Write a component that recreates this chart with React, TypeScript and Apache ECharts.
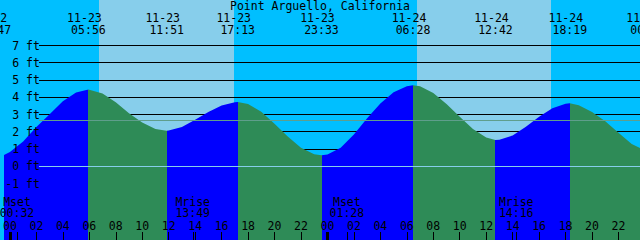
import React, { useEffect, useRef } from 'react';
import * as echarts from 'echarts';

// ---- data (hour 0 = 11-23 00:00) ----
const axisMinHour = -0.375;
const axisMaxHour = 47.625;
const yMinFeet = -4.256;
const yMaxFeet = 9.641;

const tideDates = ['11-22', '11-23', '11-23', '11-23', '11-23', '11-24', '11-24', '11-24', '11-25'];
const tideTimes = ['22:47', '05:56', '11:51', '17:13', '23:33', '06:28', '12:42', '18:19', '00:12'];
const tideHeights = [0.35, 4.46, 2.07, 3.73, 0.65, 4.7, 1.53, 3.66, 0.85];

const sunriseTimes = ['11-23 06:45', '11-24 06:45'];
const sunsetTimes = ['11-23 16:57', '11-24 16:52'];

const moonEvents = ['Mset', 'Mrise', 'Mset', 'Mrise'];
const moonDates = ['11-23', '11-23', '11-24', '11-24'];
const moonTimes = ['00:32', '13:49', '01:28', '14:16'];

const readingHours = Array.from({ length: 48 }, (_, i) => i);
const readingFeet = [
  0.84, 1.45, 2.28, 3.02, 3.78, 4.28,
  4.45, 4.22, 3.72, 3.08, 2.55, 2.17,
  2.08, 2.28, 2.7, 3.15, 3.53, 3.72,
  3.62, 3.17, 2.48, 1.73, 1.08, 0.71,
  0.69, 1.09, 1.85, 2.8, 3.65, 4.3,
  4.65, 4.64, 4.25, 3.62, 2.88, 2.17,
  1.68, 1.55, 1.8, 2.3, 2.88, 3.38,
  3.64, 3.55, 3.15, 2.62, 1.95, 1.3,
];

const footLevels = [7, 6, 5, 4, 3, 2, 1, 0, -1];
const hourTickValues = [0, 2, 4, 6, 8, 10, 12, 14, 16, 18, 20, 22, 24, 26, 28, 30, 32, 34, 36, 38, 40, 42, 44, 46];
const dayStartHours = [0, 24];
const datumLevels = [0, 2.66];

const title = 'Point Arguello, California';

// ---- styles ----
const FONT = '"DejaVu Sans Mono", monospace';
const FS = 11.5;
const NIGHT = '#00BFFF';
const DAY = '#87CEEB';
const RISE = '#0000FF';
const FALL = '#2E8B57';
const datumColors = ['#87CEEB', '#5F9E8C'];
const LINE_START_X = 39;

function toHours(date: string, time: string) {
  const day = parseInt(date.split('-')[1], 10);
  const [hh, mm] = time.split(':').map(Number);
  return (day - 23) * 24 + hh + mm / 60;
}
function split(dt: string): [string, string] {
  const p = dt.split(' ');
  return [p[0], p[1]];
}

const tideHours = tideDates.map((d, i) => toHours(d, tideTimes[i]));
const curve = readingHours
  .map((h, i) => [h, readingFeet[i]])
  .concat(tideHours.map((h, i) => [h, tideHeights[i]]))
  .sort((a, b) => a[0] - b[0]);

const dayBands = sunriseTimes.map((s, i) => [toHours(...split(s)), toHours(...split(sunsetTimes[i]))]);
const moonHours = moonDates.map((d, i) => toHours(d, moonTimes[i]));

const pad = (n: number) => (n < 10 ? '0' : '') + n;
const font = `${FS}px ${FONT}`;
const crisp = (v: number) => Math.round(v - 0.5) + 0.5;

export default function App() {
  const ref = useRef<HTMLDivElement>(null);
  useEffect(() => {
    const chart = echarts.init(ref.current!, null, { renderer: 'svg' });
    const option: any = {
      animation: false,
      backgroundColor: NIGHT,
      title: {
        text: title,
        left: 'center',
        top: 0,
        padding: 0,
        textStyle: { fontFamily: FONT, fontSize: FS, fontWeight: 'normal', color: '#000' },
      },
      grid: { left: 0, right: 0, top: 0, bottom: 0 },
      xAxis: {
        type: 'value',
        position: 'bottom',
        min: axisMinHour,
        max: axisMaxHour,
        z: 10,
        axisLine: { show: false, onZero: false },
        splitLine: { show: false },
        axisTick: {
          show: true,
          inside: true,
          length: 8,
          customValues: hourTickValues,
          lineStyle: { color: '#000', width: 1 },
        },
        axisLabel: {
          show: true,
          inside: true,
          margin: 8,
          customValues: hourTickValues,
          formatter: (v: number) => pad(((v % 24) + 24) % 24),
          color: '#000',
          fontFamily: FONT,
          fontSize: FS,
        },
      },
      yAxis: {
        type: 'value',
        min: yMinFeet,
        max: yMaxFeet,
        z: 10,
        axisLine: { show: false, onZero: false },
        splitLine: { show: false },
        axisTick: { show: false },
        axisLabel: {
          show: true,
          inside: true,
          margin: 35,
          align: 'right',
          customValues: footLevels,
          formatter: (v: number) => `${v} ft`,
          color: '#000',
          fontFamily: FONT,
          fontSize: FS,
        },
      },
      visualMap: {
        show: false,
        type: 'piecewise',
        dimension: 0,
        seriesIndex: 2,
        pieces: tideHours.slice(0, -1).map((h, i) => ({
          gte: h,
          lt: tideHours[i + 1],
          color: tideHeights[i] < tideHeights[i + 1] ? RISE : FALL,
        })),
        outOfRange: { color: RISE },
      },
      series: [
        {
          type: 'custom',
          z: 1,
          silent: true,
          data: dayBands,
          renderItem: (params: any, api: any) => {
            const x0 = api.coord([api.value(0), 0])[0];
            const x1 = api.coord([api.value(1), 0])[0];
            return {
              type: 'rect',
              shape: { x: Math.round(x0), y: 0, width: Math.round(x1) - Math.round(x0), height: api.getHeight() },
              style: { fill: DAY },
            };
          },
        },
        {
          type: 'custom',
          z: 2,
          silent: true,
          data: footLevels.map((f) => [0, f]),
          renderItem: (params: any, api: any) => {
            const y = crisp(api.coord([0, api.value(1)])[1]);
            return {
              type: 'line',
              shape: { x1: LINE_START_X, y1: y, x2: api.getWidth(), y2: y },
              style: { stroke: '#000', lineWidth: 1 },
            };
          },
        },
        {
          type: 'line',
          z: 3,
          silent: true,
          data: curve,
          symbol: 'none',
          smooth: false,
          lineStyle: { width: 0 },
          areaStyle: { opacity: 1, origin: 'start' },
        },
        {
          type: 'custom',
          z: 4,
          silent: true,
          data: datumLevels.map((f) => [0, f]),
          renderItem: (params: any, api: any) => {
            const y = crisp(api.coord([0, api.value(1)])[1]);
            return {
              type: 'line',
              shape: { x1: LINE_START_X, y1: y, x2: api.getWidth(), y2: y },
              style: { stroke: datumColors[params.dataIndex], lineWidth: 1 },
            };
          },
        },
        {
          type: 'custom',
          z: 5,
          silent: true,
          data: dayStartHours.map((h) => [h, 1]).concat(moonHours.map((h) => [h, 0])),
          renderItem: (params: any, api: any) => {
            const thick = api.value(1) === 1;
            const x = api.coord([api.value(0), 0])[0];
            const H = api.getHeight();
            return {
              type: 'rect',
              shape: { x: Math.round(x) - (thick ? 1 : 0), y: H - 8, width: thick ? 3 : 1, height: 8 },
              style: { fill: '#000' },
            };
          },
        },
        {
          type: 'custom',
          z: 6,
          silent: true,
          data: tideHours.map((h, i) => [h, i]),
          renderItem: (params: any, api: any) => {
            const i = params.dataIndex;
            const x = api.coord([api.value(0), 0])[0];
            return {
              type: 'group',
              children: [
                { type: 'text', x: x - 4, y: 17.5, style: { text: tideDates[i], font, fill: '#000', align: 'center', verticalAlign: 'middle' } },
                { type: 'text', x: x, y: 29.5, style: { text: tideTimes[i], font, fill: '#000', align: 'center', verticalAlign: 'middle' } },
              ],
            };
          },
        },
        {
          type: 'custom',
          z: 6,
          silent: true,
          data: moonHours.map((h, i) => [h, i]),
          renderItem: (params: any, api: any) => {
            const i = params.dataIndex;
            const x = api.coord([api.value(0), 0])[0];
            return {
              type: 'group',
              children: [
                { type: 'text', x: x, y: 202, style: { text: moonEvents[i], font, fill: '#000', align: 'center', verticalAlign: 'middle' } },
                { type: 'text', x: x, y: 212.5, style: { text: moonTimes[i], font, fill: '#000', align: 'center', verticalAlign: 'middle' } },
              ],
            };
          },
        },
      ],
    };
    chart.setOption(option);
    return () => chart.dispose();
  }, []);
  return <div ref={ref} style={{ position: 'fixed', left: 0, top: 0, width: 640, height: 240 }} />;
}
